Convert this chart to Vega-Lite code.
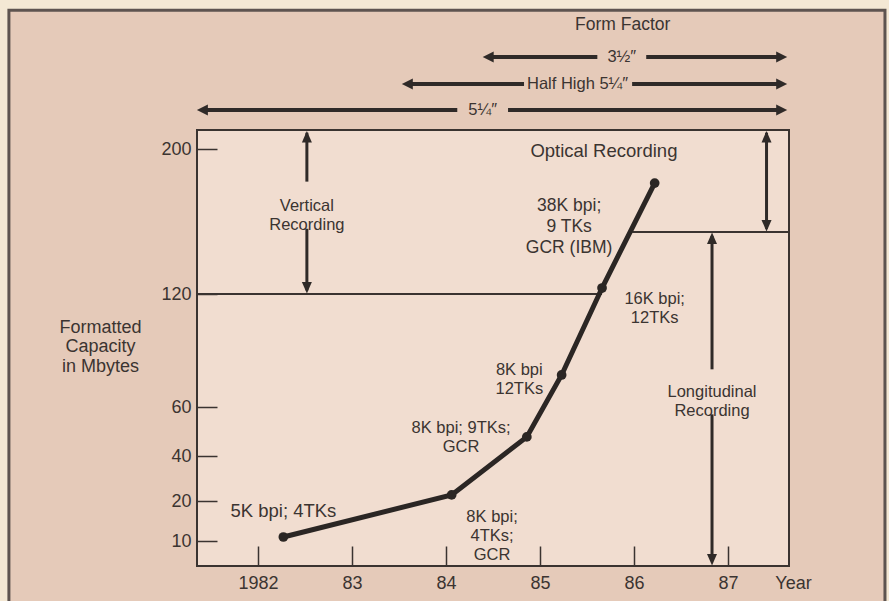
{
  "$schema": "https://vega.github.io/schema/vega-lite/v6.json",
  "width": 592,
  "height": 436,
  "autosize": {"type": "none"},
  "padding": {"left": 197, "top": 130, "right": 100, "bottom": 35},
  "background": "#f4e8d4",
  "config": {
    "view": {"stroke": null},
    "font": "Liberation Sans",
    "text": {"font": "Liberation Sans", "fontSize": 17.5, "color": "#3b3431"},
    "axis": {
      "domain": false,
      "grid": false,
      "tickColor": "#3a3330",
      "tickWidth": 1.5,
      "tickSize": -20,
      "labelFont": "Liberation Sans",
      "labelFontSize": 18,
      "labelColor": "#3b3431",
      "titleFont": "Liberation Sans",
      "titleFontSize": 18,
      "titleFontWeight": "normal",
      "titleColor": "#3b3431"
    }
  },
  "resolve": {"scale": {"y": "independent"}, "axis": {"y": "independent"}},
  "layer": [
    {
      "layer": [
        {
          "data": {"values": [{"year": 1979.35, "year2": 1988.67, "mb": -10, "mb2": 276.7}]},
          "mark": {"type": "rect", "fill": "#e5cab9", "stroke": "#5e5450", "strokeWidth": 3},
          "encoding": {
            "x": {
              "field": "year", "type": "quantitative",
              "scale": {"domain": [1981.351, 1987.649], "nice": false, "zero": false},
              "axis": {
                "zindex": 2,
                "values": [1982, 1983, 1984, 1985, 1986, 1987],
                "format": "d",
                "labelExpr": "datum.value == 1982 ? '1982' : substring(datum.label, 2)",
                "labelPadding": 28,
                "title": "Year",
                "titleX": 596,
                "titleY": 17,
                "titleAlign": "center",
                "titleBaseline": "middle",
                "titleAnchor": null
              }
            },
            "x2": {"field": "year2"},
            "y": {
              "field": "mb", "type": "quantitative",
              "scale": {
                "domain": [3.75, 10, 20, 40, 60, 120, 200, 210.5],
                "range": [436, 411, 371, 326, 277, 164, 19, 0],
                "nice": false, "zero": false
              },
              "axis": {
                "zindex": 2,
                "values": [10, 20, 40, 60, 120, 200],
                "labelPadding": 26,
                "title": ["Formatted", "Capacity", "in Mbytes"],
                "titleAngle": 0,
                "titleX": -97,
                "titleY": 197,
                "titleAlign": "center",
                "titleBaseline": "middle",
                "titleLineHeight": 19.5,
                "titleAnchor": null
              }
            },
            "y2": {"field": "mb2"}
          }
        },
        {
          "data": {"values": [{"year": 1981.351, "year2": 1987.649, "mb": 3.75, "mb2": 210.5}]},
          "mark": {"type": "rect", "fill": "#f1ddd0", "stroke": "#3a3330", "strokeWidth": 2},
          "encoding": {
            "x": {"field": "year", "type": "quantitative"},
            "x2": {"field": "year2"},
            "y": {"field": "mb", "type": "quantitative"},
            "y2": {"field": "mb2"}
          }
        },
        {
          "data": {"values": [
            {"year": 1981.351, "year2": 1985.66, "mb": 120},
            {"year": 1985.98, "year2": 1987.649, "mb": 154.2}
          ]},
          "mark": {"type": "rule", "stroke": "#3a3330", "strokeWidth": 1.8},
          "encoding": {
            "x": {"field": "year", "type": "quantitative"},
            "x2": {"field": "year2"},
            "y": {"field": "mb", "type": "quantitative"}
          }
        },
        {
          "data": {"values": [
            {"year": 1982.52, "mb": 209, "mb2": 182},
            {"year": 1982.52, "mb": 156, "mb2": 122},
            {"year": 1986.83, "mb": 152, "mb2": 80},
            {"year": 1986.83, "mb": 57, "mb2": 5},
            {"year": 1987.41, "mb": 209, "mb2": 156}
          ]},
          "mark": {"type": "rule", "stroke": "#2f2a28", "strokeWidth": 3},
          "encoding": {
            "x": {"field": "year", "type": "quantitative"},
            "y": {"field": "mb", "type": "quantitative"},
            "y2": {"field": "mb2"}
          }
        },
        {
          "data": {"values": [
            {"year": 1982.52, "mb": 210, "dir": "up"},
            {"year": 1982.52, "mb": 120.3, "dir": "down"},
            {"year": 1986.83, "mb": 153.9, "dir": "up"},
            {"year": 1986.83, "mb": 3.9, "dir": "down"},
            {"year": 1987.41, "mb": 210, "dir": "up"},
            {"year": 1987.41, "mb": 154.5, "dir": "down"}
          ]},
          "mark": {"type": "point", "filled": true, "opacity": 1, "size": 100, "color": "#2f2a28"},
          "encoding": {
            "x": {"field": "year", "type": "quantitative"},
            "y": {"field": "mb", "type": "quantitative"},
            "shape": {
              "field": "dir", "type": "nominal", "legend": null,
              "scale": {
                "domain": ["up", "down", "left", "right"],
                "range": ["M0,0L-1,2.3L1,2.3Z", "M0,0L-1,-2.3L1,-2.3Z", "M0,0L2.2,-1.1L2.2,1.1Z", "M0,0L-2.2,-1.1L-2.2,1.1Z"]
              }
            }
          }
        },
        {
          "data": {"values": [
            {"year": 1982.27, "mb": 11},
            {"year": 1984.06, "mb": 22.7},
            {"year": 1984.86, "mb": 47.8},
            {"year": 1985.23, "mb": 77},
            {"year": 1985.66, "mb": 123.3},
            {"year": 1986.22, "mb": 181.2}
          ]},
          "mark": {"type": "line", "stroke": "#2b2624", "strokeWidth": 5, "point": {"filled": true, "size": 95, "color": "#2b2624", "opacity": 1}},
          "encoding": {
            "x": {"field": "year", "type": "quantitative"},
            "y": {"field": "mb", "type": "quantitative"}
          }
        },
        {
          "data": {"values": [
            {"year": 1985.68, "mb": 198.9, "label": "Optical Recording"},
            {"year": 1982.27, "mb": 17.5, "label": "5K bpi; 4TKs"}
          ]},
          "mark": {"type": "text", "fontSize": 18.5, "align": "center", "baseline": "middle"},
          "encoding": {
            "x": {"field": "year", "type": "quantitative"},
            "y": {"field": "mb", "type": "quantitative"},
            "text": {"field": "label", "type": "nominal"}
          }
        },
        {
          "data": {"values": [
            {"year": 1986.22, "mb": 117.3, "label": "16K bpi;\n12TKs"},
            {"year": 1984.78, "mb": 79.9, "label": "8K bpi\n12TKs"},
            {"year": 1984.16, "mb": 51.4, "label": "8K bpi; 9TKs;\nGCR"},
            {"year": 1984.49, "mb": 16, "label": "8K bpi;\n4TKs;\nGCR"},
            {"year": 1982.52, "mb": 168.6, "label": "Vertical\nRecording"},
            {"year": 1986.83, "mb": 68, "label": "Longitudinal\nRecording"}
          ]},
          "mark": {"type": "text", "fontSize": 16.5, "lineBreak": "\n", "lineHeight": 19, "align": "center", "baseline": "middle"},
          "encoding": {
            "x": {"field": "year", "type": "quantitative"},
            "y": {"field": "mb", "type": "quantitative"},
            "text": {"field": "label", "type": "nominal"}
          }
        },
        {
          "data": {"values": [
            {"year": 1985.31, "mb": 168.3, "label": "38K bpi;\n9 TKs\nGCR (IBM)"}
          ]},
          "mark": {"type": "text", "lineBreak": "\n", "lineHeight": 21, "align": "center", "baseline": "middle"},
          "encoding": {
            "x": {"field": "year", "type": "quantitative"},
            "y": {"field": "mb", "type": "quantitative"},
            "text": {"field": "label", "type": "nominal"}
          }
        }
      ]
    },
    {
      "layer": [
        {
          "data": {"values": [
            {"year": 1984.45, "year2": 1985.61, "level": 1},
            {"year": 1986.13, "year2": 1987.57, "level": 1},
            {"year": 1983.59, "year2": 1984.83, "level": 2},
            {"year": 1985.98, "year2": 1987.57, "level": 2},
            {"year": 1981.41, "year2": 1984.12, "level": 3},
            {"year": 1984.66, "year2": 1987.57, "level": 3}
          ]},
          "mark": {"type": "rule", "stroke": "#2f2a28", "strokeWidth": 4},
          "encoding": {
            "x": {"field": "year", "type": "quantitative"},
            "x2": {"field": "year2"},
            "y": {
              "field": "level", "type": "quantitative",
              "scale": {"domain": [0, 1, 2, 3], "range": [-105, -73, -46, -20], "nice": false, "zero": false},
              "axis": null
            }
          }
        },
        {
          "data": {"values": [
            {"year": 1984.39, "level": 1, "dir": "left"},
            {"year": 1987.63, "level": 1, "dir": "right"},
            {"year": 1983.53, "level": 2, "dir": "left"},
            {"year": 1987.63, "level": 2, "dir": "right"},
            {"year": 1981.35, "level": 3, "dir": "left"},
            {"year": 1987.63, "level": 3, "dir": "right"}
          ]},
          "mark": {"type": "point", "filled": true, "opacity": 1, "size": 100, "color": "#2f2a28"},
          "encoding": {
            "x": {"field": "year", "type": "quantitative"},
            "y": {"field": "level", "type": "quantitative"},
            "shape": {
              "field": "dir", "type": "nominal", "legend": null,
              "scale": {
                "domain": ["up", "down", "left", "right"],
                "range": ["M0,0L-1,2.3L1,2.3Z", "M0,0L-1,-2.3L1,-2.3Z", "M0,0L2.2,-1.1L2.2,1.1Z", "M0,0L-2.2,-1.1L-2.2,1.1Z"]
              }
            }
          }
        },
        {
          "data": {"values": [
            {"year": 1985.88, "level": 0, "label": "Form Factor"}
          ]},
          "mark": {"type": "text", "fontSize": 17.5, "align": "center", "baseline": "middle"},
          "encoding": {
            "x": {"field": "year", "type": "quantitative"},
            "y": {"field": "level", "type": "quantitative"},
            "text": {"field": "label", "type": "nominal"}
          }
        },
        {
          "data": {"values": [
            {"year": 1985.87, "level": 1, "label": "3½″"},
            {"year": 1985.40, "level": 2, "label": "Half High 5¼″"},
            {"year": 1984.39, "level": 3, "label": "5¼″"}
          ]},
          "mark": {"type": "text", "fontSize": 16.5, "align": "center", "baseline": "middle"},
          "encoding": {
            "x": {"field": "year", "type": "quantitative"},
            "y": {"field": "level", "type": "quantitative"},
            "text": {"field": "label", "type": "nominal"}
          }
        }
      ]
    }
  ]
}
